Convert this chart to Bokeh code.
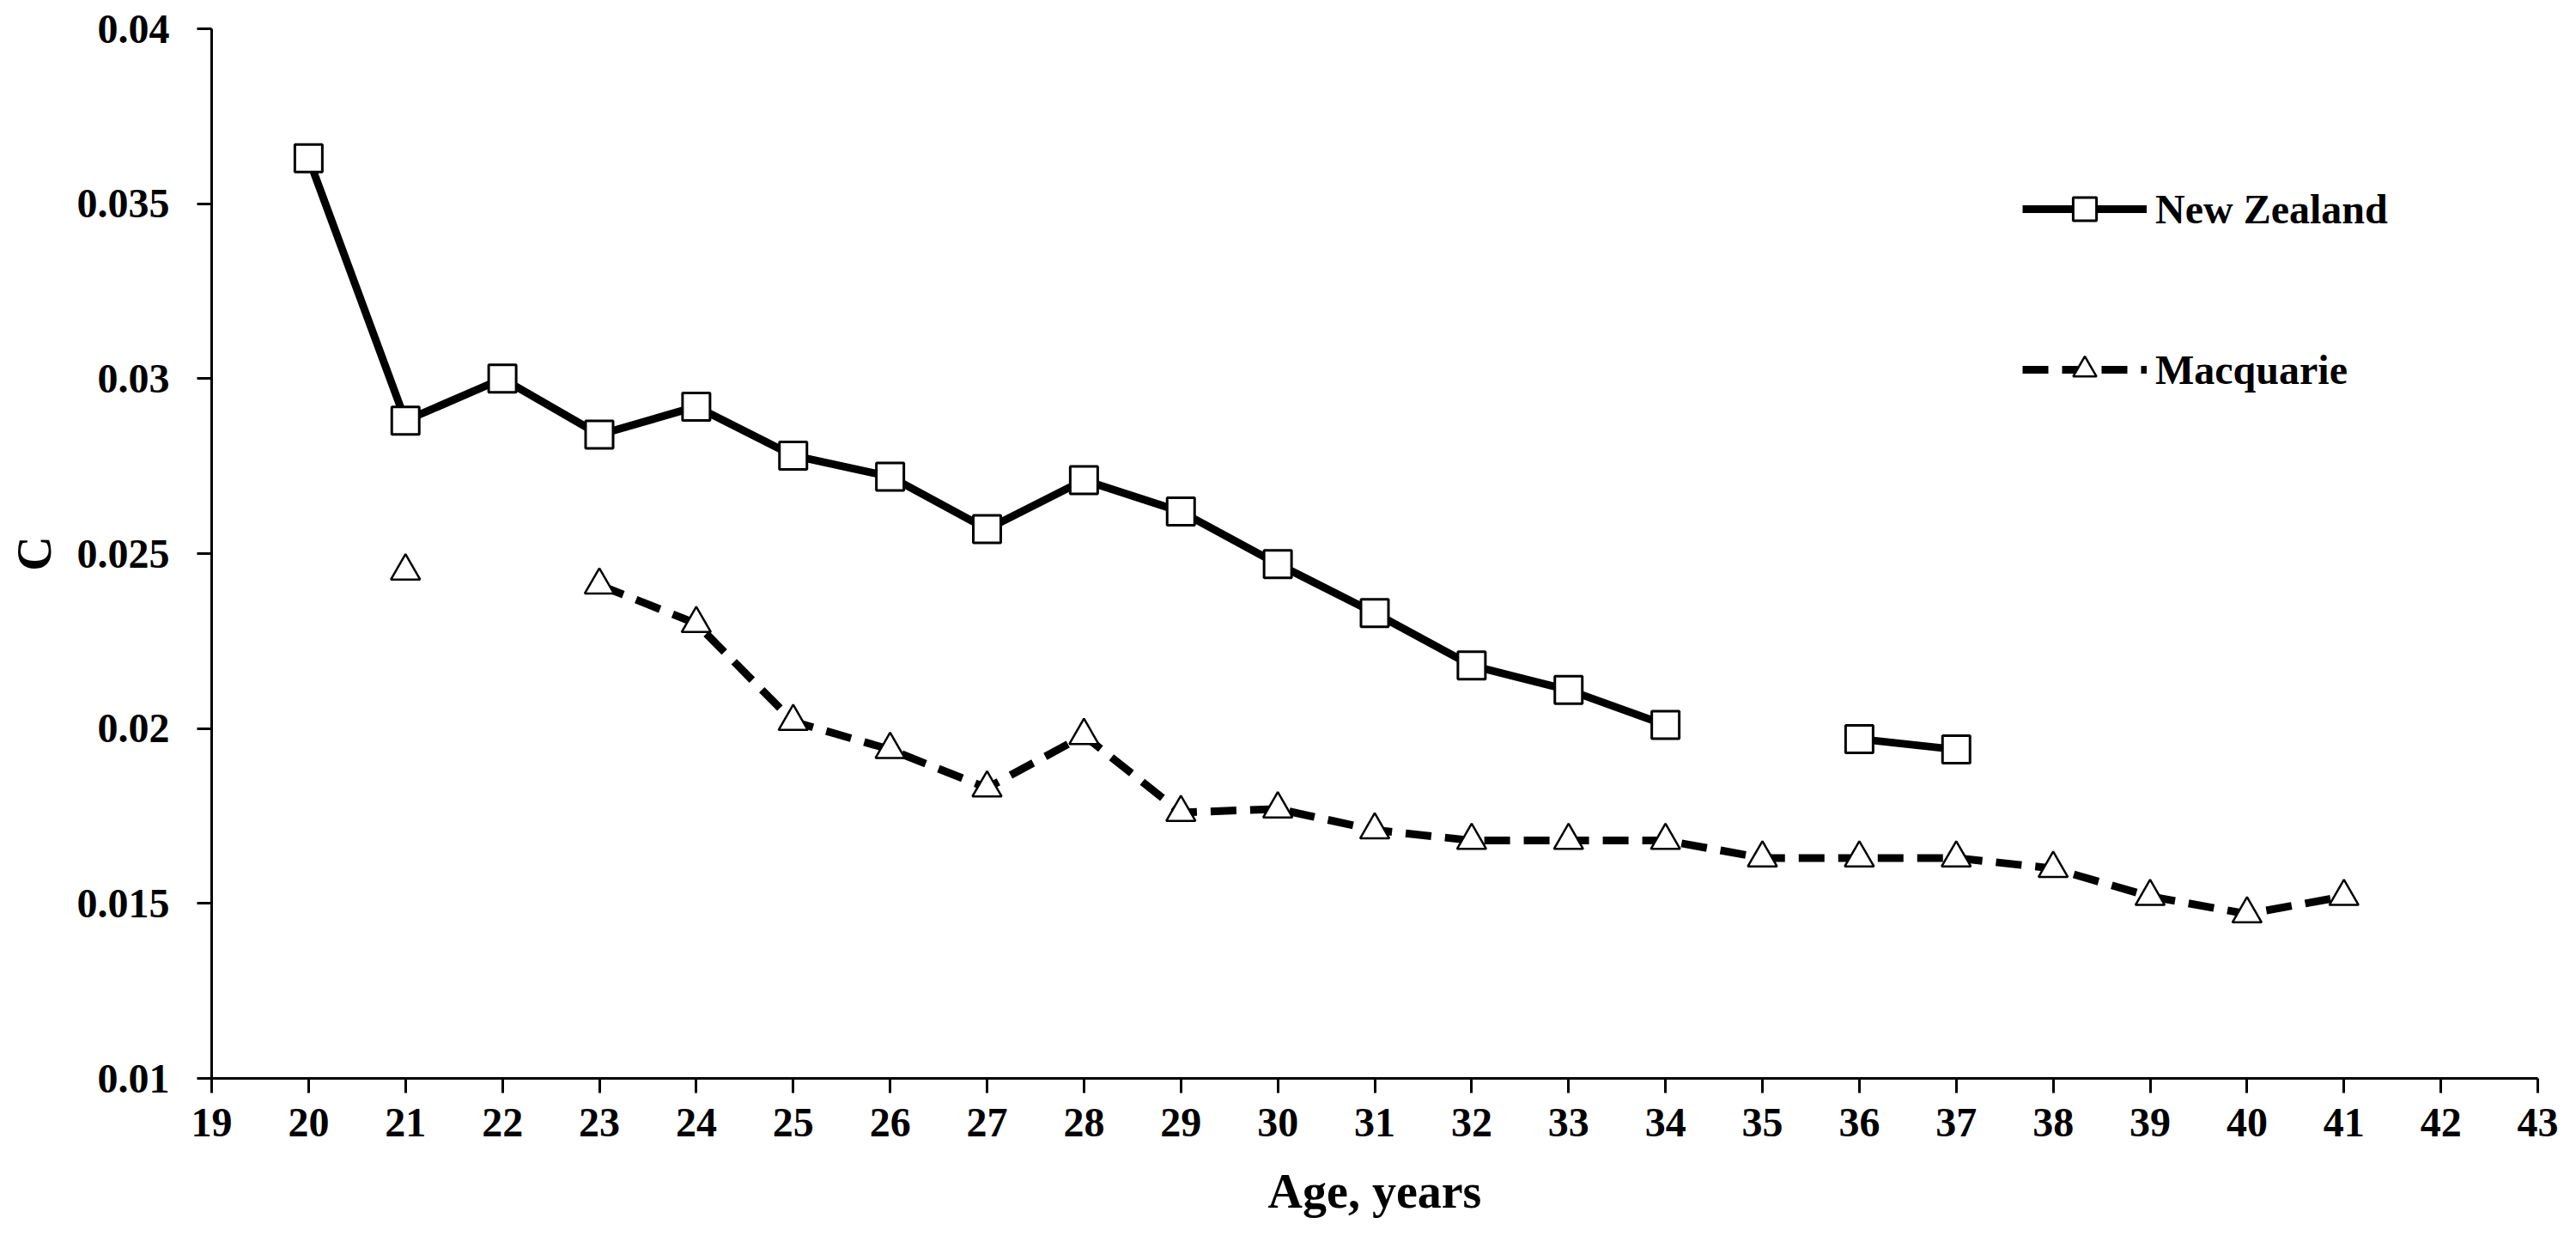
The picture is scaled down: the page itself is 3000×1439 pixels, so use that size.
import math
from bokeh.plotting import figure
from bokeh.models import Range1d, FixedTicker, Legend, LegendItem
from bokeh.embed import file_html
from bokeh.resources import INLINE

# ---- data ----
ages = [20, 21, 22, 23, 24, 25, 26, 27, 28, 29, 30, 31, 32, 33, 34, 35, 36, 37, 38, 39, 40, 41]
new_zealand = [0.0363, 0.0288, 0.0300, 0.0284, 0.0292, 0.0278, 0.0272, 0.0257, 0.0271, 0.0262,
               0.0247, 0.0233, 0.0218, 0.0211, 0.0201, float("nan"), 0.0197, 0.0194,
               float("nan"), float("nan"), float("nan"), float("nan")]
macquarie = [float("nan"), 0.0245, float("nan"), 0.0241, 0.0230, 0.0202, 0.0194, 0.0183, 0.0198, 0.0176,
             0.0177, 0.0171, 0.0168, 0.0168, 0.0168, 0.0163, 0.0163, 0.0163, 0.0160, 0.0152,
             0.0147, 0.0152]
x_ticks = list(range(19, 44))
y_ticks = [0.01, 0.015, 0.02, 0.025, 0.03, 0.035, 0.04]
y_tick_labels = ["0.01", "0.015", "0.02", "0.025", "0.03", "0.035", "0.04"]
series_names = ["New Zealand", "Macquarie"]

FONT = "Liberation Serif"

p = figure(width=2984, height=1439, output_backend="svg", toolbar_location=None,
           x_range=Range1d(19, 43), y_range=Range1d(0.01, 0.04),
           min_border_left=246, min_border_right=29, min_border_top=33, min_border_bottom=184)
p.outline_line_color = None
p.xgrid.grid_line_color = None
p.ygrid.grid_line_color = None
p.background_fill_color = "white"
p.border_fill_color = "white"

for ax in (p.xaxis[0], p.yaxis[0]):
    ax.axis_line_width = 3
    ax.axis_line_color = "black"
    ax.major_tick_line_width = 3
    ax.major_tick_line_color = "black"
    ax.major_tick_out = 17
    ax.major_tick_in = 0
    ax.minor_tick_line_color = None
    ax.major_label_text_font = FONT
    ax.major_label_text_font_style = "bold"
    ax.major_label_text_font_size = "48px"
    ax.major_label_text_color = "black"
    ax.axis_label_text_font = FONT
    ax.axis_label_text_font_style = "bold"
    ax.axis_label_text_font_size = "56px"
    ax.axis_label_text_color = "black"

p.xaxis[0].ticker = FixedTicker(ticks=x_ticks)
p.yaxis[0].ticker = FixedTicker(ticks=y_ticks)
p.yaxis[0].major_label_overrides = {t: l for t, l in zip(y_ticks, y_tick_labels)}
p.xaxis[0].axis_label = "Age, years"
p.yaxis[0].axis_label = "C"
p.xaxis[0].major_label_standoff = 18
p.yaxis[0].major_label_standoff = 32
p.xaxis[0].axis_label_standoff = 30
p.yaxis[0].axis_label_standoff = 16

nz_line = p.line(ages, new_zealand, line_color="black", line_width=9, line_join="round")
nz_pts = p.scatter([a for a, v in zip(ages, new_zealand) if not math.isnan(v)],
                   [v for v in new_zealand if not math.isnan(v)],
                   marker="square", size=32, fill_color="white", line_color="black", line_width=3)

mq_line = p.line(ages, macquarie, line_color="black", line_width=9, line_dash="30 16", line_join="round")
mq_pts = p.scatter([a for a, v in zip(ages, macquarie) if not math.isnan(v)],
                   [v for v in macquarie if not math.isnan(v)],
                   marker="triangle", size=34, fill_color="white", line_color="black", line_width=2.5)

legend = Legend(items=[LegendItem(label=series_names[0], renderers=[nz_line, nz_pts]),
                       LegendItem(label=series_names[1], renderers=[mq_line, mq_pts])],
                location=(2109, 791), orientation="vertical",
                glyph_width=145, glyph_height=68, label_height=68, spacing=119,
                label_standoff=10, padding=0, margin=0,
                border_line_color=None, background_fill_alpha=0,
                label_text_font=FONT, label_text_font_style="bold",
                label_text_font_size="48px", label_text_color="black")
p.add_layout(legend, "center")

open("out.html", "w").write(file_html(p, INLINE))
